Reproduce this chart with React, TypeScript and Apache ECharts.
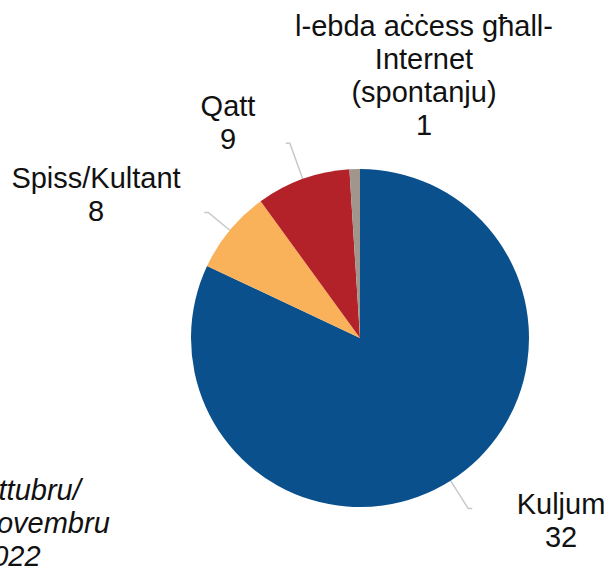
import React, { useEffect, useRef } from "react";
import * as echarts from "echarts";

// Categories, in clockwise order from 12 o'clock
const categories = [
  "Kuljum",
  "Spiss/Kultant",
  "Qatt",
  "l-ebda aċċess għall-\nInternet\n(spontanju)",
];
// Numbers printed in the labels
const labelCounts = [32, 8, 9, 1];
// Slice shares as drawn
const sliceShares = [82, 8, 9, 1];
const sliceColors = ["#0A508C", "#FAB25A", "#B22228", "#A0968C"];
const titleLines = ["Ottubru/", "Novembru", "2022"];

// layout / style helpers (not data)
const labelX = [561, 96, 228, 424];
const labelY = [520, 194, 122, 75];
const lineLengths = [33, 28, 38, 0];

export default function App() {
  const ref = useRef<HTMLDivElement>(null);
  useEffect(() => {
    if (!ref.current) return;
    const chart = echarts.init(ref.current, null, { renderer: "svg" });
    const data = categories.map((name, i) => ({
      name,
      value: sliceShares[i],
      itemStyle: { color: sliceColors[i] },
      labelLine: {
        show: lineLengths[i] > 0,
        length: lineLengths[i],
        length2: 4,
      },
    }));
    chart.setOption({
      animation: false,
      backgroundColor: "#ffffff",
      graphic: [
        {
          type: "text",
          x: -24,
          y: 473,
          style: {
            text: titleLines.join("\n"),
            font: 'italic 29px "Liberation Sans", Arial, sans-serif',
            lineHeight: 33,
            fill: "#111111",
            textVerticalAlign: "top",
            textAlign: "left",
          },
        },
      ],
      series: [
        {
          type: "pie",
          center: [360, 338],
          radius: 169,
          startAngle: 90,
          clockwise: true,
          silent: true,
          avoidLabelOverlap: false,
          emphasis: { disabled: true },
          itemStyle: { borderWidth: 0 },
          data,
          label: {
            show: true,
            position: "outside",
            formatter: (p: any) => `${p.name}\n${labelCounts[p.dataIndex]}`,
            fontFamily: '"Liberation Sans", Arial, sans-serif',
            fontSize: 29,
            lineHeight: 33,
            color: "#111111",
            align: "center",
          },
          labelLine: {
            show: true,
            length: 32,
            length2: 4,
            smooth: false,
            minTurnAngle: 0,
            lineStyle: { color: "#c8c8c8", width: 1.5 },
          },
          labelLayout: (params: any) => {
            const i = params.dataIndex;
            return {
              x: labelX[i],
              y: labelY[i],
              align: "center",
              verticalAlign: "middle",
              labelLinePoints: params.labelLinePoints,
            };
          },
        },
      ],
    });
    return () => chart.dispose();
  }, []);
  return (
    <div
      ref={ref}
      style={{ position: "absolute", left: 0, top: 0, width: 608, height: 567 }}
    />
  );
}
